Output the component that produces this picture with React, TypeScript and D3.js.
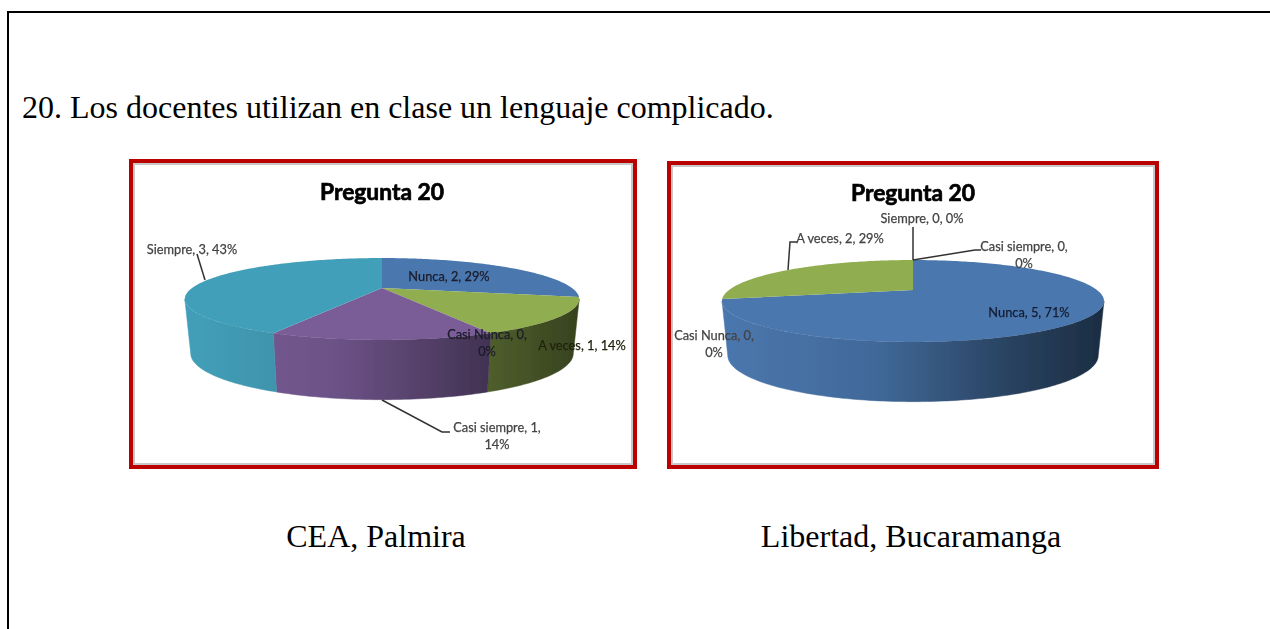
import React from "react";
import * as d3 from "d3";

const heading = "20. Los docentes utilizan en clase un lenguaje complicado.";
const chartTitle = "Pregunta 20";
const categories = ["Nunca", "Casi Nunca", "A veces", "Casi siempre", "Siempre"];
const ceaValues = [2, 0, 1, 1, 3];
const libertadValues = [5, 0, 2, 0, 0];
const sliceColors = ["#4a77ae", "#b5504c", "#90ad50", "#7a5c97", "#439fb9"];
const captions = ["CEA, Palmira", "Libertad, Bucaramanga"];

// layout of each chart: frame, projected pie and label placement
const ceaLayout = {
  id: "cea",
  caption: captions[0],
  captionX: 376,
  frame: [129, 159, 637, 469],
  titleX: 382,
  titleY: 200,
  cx: 382,
  cy: 288,
  sx: 190,
  labels: [
    { i: 0, lines: 1, x: 449, y: 281, c: "#1c1c2a" },
    { i: 1, lines: 2, x: 487, y: 339, c: "#1c1c2a" },
    { i: 2, lines: 1, x: 582, y: 350, c: "#20240f" },
    { i: 3, lines: 2, x: 497, y: 432, c: "#444" },
    { i: 4, lines: 1, x: 192, y: 254, c: "#444" },
  ],
  leaders: [
    [[197, 254], [205, 280]],
    [[382, 400], [442, 432], [450, 432]],
  ],
};
const libertadLayout = {
  id: "lib",
  caption: captions[1],
  captionX: 911,
  frame: [667, 161, 1159, 469],
  titleX: 913,
  titleY: 201,
  cx: 913,
  cy: 290,
  sx: 184,
  labels: [
    { i: 0, lines: 1, x: 1029, y: 317, c: "#141d33" },
    { i: 1, lines: 2, x: 714, y: 340, c: "#444" },
    { i: 2, lines: 1, x: 840, y: 243, c: "#444" },
    { i: 3, lines: 2, x: 1024, y: 251, c: "#444" },
    { i: 4, lines: 1, x: 922, y: 223, c: "#444" },
  ],
  leaders: [
    [[797, 242], [790, 242], [788, 270]],
    [[913, 227], [913, 260]],
    [[913, 260], [975, 250], [981, 250]],
  ],
};

const KP = 0.268; // perspective strength
const SY = 38; // vertical radius of the tilted disc
const DEPTH = 53; // wall height at the silhouette
const BOTTOM = 0.97; // horizontal rim shrink at the wall bottom
const BOTTOM_Y = 1.13; // vertical rim stretch at the wall bottom
const FRONT_START = Math.acos(-KP); // where the wall becomes visible
const FRONT_END = 2 * Math.PI - FRONT_START;

const line = d3.line();

function rim(cx: number, cy: number, sx: number, a: number, kx = 1, ky = 1, dy = 0): [number, number] {
  const X = Math.sin(a);
  const Y = -Math.cos(a);
  const s = 1 / (1 - KP * Y);
  return [cx + sx * X * s * kx, cy + dy + SY * Y * s * ky];
}

function arcAngles(a0: number, a1: number) {
  const n = Math.max(2, Math.ceil((a1 - a0) / 0.02));
  return d3.range(n + 1).map((k) => a0 + ((a1 - a0) * k) / n);
}

function labelLines(name: string, value: number, total: number, lines: number) {
  const pct = `${Math.round((value / total) * 100)}%`;
  return lines === 2 ? [`${name}, ${value},`, pct] : [`${name}, ${value}, ${pct}`];
}

function shade(color: string, k: number) {
  const c = d3.rgb(color);
  return d3.rgb(c.r * k, c.g * k, c.b * k).formatHex();
}

const wallStops = [
  [0, 1.0],
  [0.4, 0.88],
  [0.75, 0.56],
  [1, 0.38],
];

function PieChart({ layout, values }: { layout: typeof ceaLayout; values: number[] }) {
  const { id, frame, cx, cy, sx } = layout;
  const total = d3.sum(values);
  const slices = d3.pie<number>().sort(null)(values);
  const [x0, y0, x1, y1] = frame;
  return (
    <g>
      <g>
        <rect x={x0 + 2} y={y0 + 2} width={x1 - x0 - 4} height={y1 - y0 - 4} fill="#fff" stroke="#bb0000" strokeWidth={4} />
        <rect x={x0 + 5} y={y0 + 5} width={x1 - x0 - 10} height={y1 - y0 - 10} fill="#fff" stroke="#c8c8c8" strokeWidth={2} filter="url(#faint)" />
      </g>
      <g filter="url(#soft)">
        <defs>
          {sliceColors.map((col, i) => (
            <linearGradient key={i} id={`${id}-g${i}`} gradientUnits="userSpaceOnUse" x1={cx - sx * 1.04} x2={cx + sx * 1.04} y1={0} y2={0}>
              {wallStops.map(([o, k]) => (
                <stop key={o} offset={o} stopColor={shade(col, k)} />
              ))}
            </linearGradient>
          ))}
        </defs>
        {slices.map((s, i) => {
          const a0 = Math.max(s.startAngle, FRONT_START);
          const a1 = Math.min(s.endAngle, FRONT_END);
          if (s.value === 0 || a1 <= a0) return null;
          const angles = arcAngles(a0, a1);
          const top = angles.map((a) => rim(cx, cy, sx, a));
          const bot = angles.map((a) => rim(cx, cy, sx, a, BOTTOM, BOTTOM_Y, DEPTH)).reverse();
          return <path key={i} d={line([...top, ...bot]) + "Z"} fill={`url(#${id}-g${i})`} stroke={`url(#${id}-g${i})`} strokeWidth={0.5} />;
        })}
        {slices.map((s, i) => {
          if (s.value === 0) return null;
          const top = arcAngles(s.startAngle, s.endAngle).map((a) => rim(cx, cy, sx, a));
          return <path key={i} d={line([[cx, cy], ...top]) + "Z"} fill={sliceColors[i]} />;
        })}
        {layout.leaders.map((pts, i) => (
          <path key={i} d={line(pts as [number, number][]) as string} fill="none" stroke="#333" strokeWidth={1.5} />
        ))}
        <text x={layout.titleX} y={layout.titleY} textAnchor="middle" fontFamily="Lato" fontWeight={700} fontSize={22.8} fill="#000" stroke="#000" strokeWidth={0.7}>
          {chartTitle}
        </text>
        {layout.labels.map((l) =>
          labelLines(categories[l.i], values[l.i], total, l.lines).map((t, k) => (
            <text key={`${l.i}-${k}`} x={l.x} y={l.y + k * 17} textAnchor="middle" fontFamily="Lato" fontSize={12.8} fill={l.c} stroke={l.c} strokeWidth={0.25}>
              {t}
            </text>
          ))
        )}
      </g>
      <text x={layout.captionX} y={547} textAnchor="middle" fontFamily="Liberation Serif" fontSize={32} fill="#000">
        {layout.caption}
      </text>
    </g>
  );
}

export default function App() {
  return (
    <svg width={1270} height={629} viewBox="0 0 1270 629" style={{ position: "absolute", left: 0, top: 0, display: "block", background: "#fff" }}>
      <defs>
        <filter id="soft" x="-5%" y="-5%" width="110%" height="110%">
          <feGaussianBlur stdDeviation={0.7} />
        </filter>
        <filter id="faint" x="-2%" y="-2%" width="104%" height="104%">
          <feGaussianBlur stdDeviation={0.4} />
        </filter>
      </defs>
      <path d="M8 629V12H1270" fill="none" stroke="#000" strokeWidth={2} />
      <text x={22} y={118} fontFamily="Liberation Serif" fontSize={32} fill="#000">
        {heading}
      </text>
      <PieChart layout={ceaLayout} values={ceaValues} />
      <PieChart layout={libertadLayout} values={libertadValues} />
    </svg>
  );
}
